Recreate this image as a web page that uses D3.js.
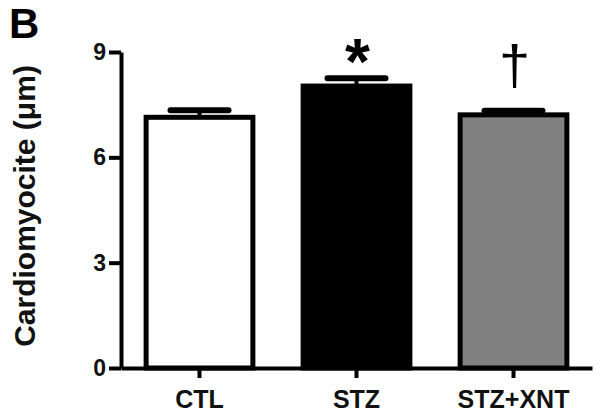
<!DOCTYPE html>
<html lang="en">
<head>
  <meta charset="UTF-8">
  <title>Cardiomyocite</title>
  <style>
    body { margin: 0; background: #fff; }
    svg { display: block; font-family: "Liberation Sans", Arial, sans-serif; }
    .axis path, .axis line { stroke: #000; stroke-width: 4; }
    .axis text { font-size: 23px; font-weight: bold; fill: #111; }
  </style>
</head>
<body>
  <svg class="bar-chart"></svg>
  <script src="https://cdn.jsdelivr.net/npm/d3@7"></script>
  <script>
    let groups = ['CTL', 'STZ', 'STZ+XNT']
    let means = [7.14, 8.03, 7.21]
    let sems = [0.2, 0.22, 0.12]
    let fills = ['#ffffff', '#000000', '#808080']
    let marks = ['', '*', '†']
    let yTicks = [0, 3, 6, 9]

    let svgWidth = 602, svgHeight = 416
    let svg = d3.select('svg')
      .attr('width', svgWidth)
      .attr('height', svgHeight)

    let x = d3.scaleBand()
      .domain(groups)
      .range([121, 592])
      .paddingInner(0.32)
      .paddingOuter(0.16)

    let y = d3.scaleLinear()
      .domain([0, 9])
      .range([368, 52])

    let data = groups.map((g, i) => ({ g: g, mean: means[i], sem: sems[i], fill: fills[i], mark: marks[i] }))

    // bars
    svg.append('g').selectAll('rect')
      .data(data)
      .enter()
      .append('rect')
      .attr('x', d => x(d.g))
      .attr('y', d => y(d.mean))
      .attr('width', x.bandwidth())
      .attr('height', d => y(0) - y(d.mean))
      .attr('fill', d => d.fill)
      .attr('stroke', '#000')
      .attr('stroke-width', 5)

    // error bars (upper only)
    let capW = 58
    let err = svg.append('g').selectAll('g')
      .data(data)
      .enter()
      .append('g')

    err.append('line')
      .attr('x1', d => x(d.g) + x.bandwidth() / 2)
      .attr('x2', d => x(d.g) + x.bandwidth() / 2)
      .attr('y1', d => y(d.mean))
      .attr('y2', d => y(d.mean + d.sem))
      .attr('stroke', '#000')
      .attr('stroke-width', 4)

    err.append('line')
      .attr('x1', d => x(d.g) + x.bandwidth() / 2 - capW / 2)
      .attr('x2', d => x(d.g) + x.bandwidth() / 2 + capW / 2)
      .attr('y1', d => y(d.mean + d.sem))
      .attr('y2', d => y(d.mean + d.sem))
      .attr('stroke', '#000')
      .attr('stroke-width', 6)
      .attr('stroke-linecap', 'round')

    // significance marks
    svg.append('g').selectAll('text')
      .data(data.filter(d => d.mark))
      .enter()
      .append('text')
      .attr('x', d => x(d.g) + x.bandwidth() / 2 + 1)
      .attr('y', d => d.mark === '*' ? 84 : 84)
      .attr('text-anchor', 'middle')
      .attr('font-weight', d => d.mark === '*' ? 'bold' : 'normal')
      .attr('font-size', d => d.mark === '*' ? '64px' : '56px')
      .text(d => d.mark)

    // axes
    svg.append('g')
      .attr('class', 'axis')
      .attr('transform', 'translate(121,0)')
      .call(d3.axisLeft(y).tickValues(yTicks).tickSize(12).tickSizeOuter(0).tickPadding(3))

    svg.append('g')
      .attr('class', 'axis')
      .attr('transform', 'translate(0,368)')
      .call(d3.axisBottom(x).tickSize(10).tickSizeOuter(0).tickPadding(12))
      .selectAll('text')
      .style('font-size', '25px')

    // axis title and panel letter
    svg.append('text')
      .attr('transform', 'translate(35,206) rotate(-90)')
      .attr('text-anchor', 'middle')
      .attr('font-weight', 'bold')
      .attr('font-size', '30px')
      .attr('fill', '#111')
      .text('Cardiomyocite (μm)')

    svg.append('text')
      .attr('x', 9)
      .attr('y', 38)
      .attr('font-weight', 'bold')
      .attr('font-size', '42px')
      .text('B')
  </script>
</body>
</html>
